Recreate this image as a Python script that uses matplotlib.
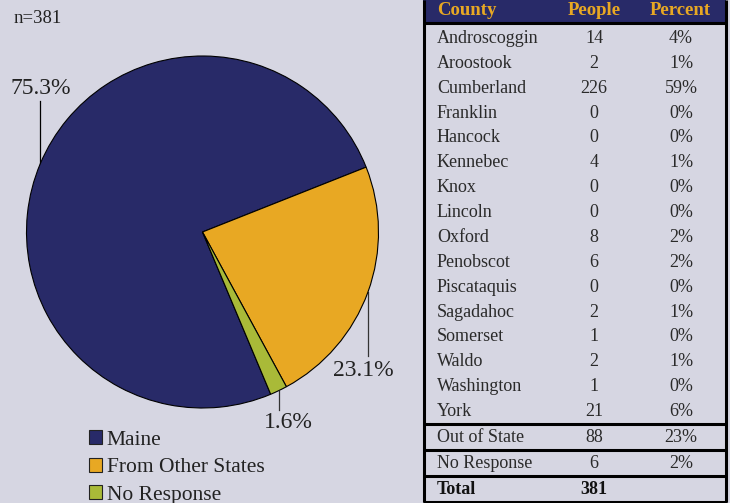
import matplotlib
matplotlib.use("Agg")
import matplotlib.pyplot as plt
from matplotlib.patches import Patch, Rectangle

# ---- data ----
pie_labels = ["Maine", "From Other States", "No Response"]
pie_values = [287, 88, 6]
n_total = 381

counties = ["Androscoggin", "Aroostook", "Cumberland", "Franklin", "Hancock",
            "Kennebec", "Knox", "Lincoln", "Oxford", "Penobscot", "Piscataquis",
            "Sagadahoc", "Somerset", "Waldo", "Washington", "York"]
people = [14, 2, 226, 0, 0, 4, 0, 0, 8, 6, 0, 2, 1, 2, 1, 21]
percent = ["4%", "1%", "59%", "0%", "0%", "1%", "0%", "0%", "2%", "2%", "0%",
           "1%", "0%", "1%", "0%", "6%"]
extra_rows = ["Out of State", "No Response"]
extra_people = [88, 6]
extra_percent = ["23%", "2%"]
header = ["County", "People", "Percent"]

# ---- style ----
BG = "#D6D6E2"
NAVY = "#282A68"
GOLD = "#E8A823"
GREEN = "#A9BA38"
colors = [NAVY, GOLD, GREEN]
FONT = "Liberation Serif"
plt.rcParams["font.family"] = [FONT, "DejaVu Serif"]

W, H = 730, 503
fig = plt.figure(figsize=(W / 100, H / 100), dpi=100, facecolor=BG)

# main overlay axes in pixel coords
ax = fig.add_axes([0, 0, 1, 1])
ax.set_xlim(0, W)
ax.set_ylim(H, 0)
ax.axis("off")

# ---- pie ----
cx, cy, r = 202.5, 232, 176
pax = fig.add_axes([(cx - r) / W, (H - cy - r) / H, 2 * r / W, 2 * r / H])
wedges, _ = pax.pie(pie_values, colors=colors, startangle=-67.2, counterclock=False,
                    wedgeprops=dict(edgecolor="black", linewidth=0.8))
pax.set_xlim(-1, 1)
pax.set_ylim(-1, 1)
pax.axis("off")

pcts = [f"{v / sum(pie_values) * 100:.1f}%" for v in pie_values]
# leader lines and labels (pixel coords)
ax.plot([40, 40], [101, 164], color="black", lw=0.9)
ax.text(41, 88, pcts[0], fontsize=17, ha="center", va="center", color="#222222")
ax.plot([368, 368], [292, 356], color="#333333", lw=0.9)
ax.text(363, 370, pcts[1], fontsize=17, ha="center", va="center", color="#222222")
ax.plot([279, 279], [391, 410], color="#333333", lw=0.9)
ax.text(288, 423, pcts[2], fontsize=17, ha="center", va="center", color="#222222")

ax.text(14, 18, f"n={n_total}", fontsize=13.5, ha="left", va="center", color="#222222")

handles = [Patch(facecolor=c, edgecolor="#222222", linewidth=0.8) for c in colors]
leg = fig.legend(handles, pie_labels, loc="upper left", bbox_to_anchor=(89 / W, 1 - 430 / H),
                 frameon=False, fontsize=15.5, handlelength=0.62, handleheight=0.62,
                 handletextpad=0.2, labelspacing=0.38, borderpad=0, borderaxespad=0)
for t in leg.get_texts():
    t.set_color("#222222")

# ---- table ----
tx0, tx1 = 423, 726
ax.add_patch(Rectangle((tx0, 0), tx1 - tx0, 22, facecolor=NAVY, edgecolor="none"))
hdr_x = [437, 594.5, 680.5]
ax.text(hdr_x[0], 10, header[0], color=GOLD, fontsize=13.5, fontweight="bold", ha="left", va="center")
ax.text(hdr_x[1], 10, header[1], color=GOLD, fontsize=13.5, fontweight="bold", ha="center", va="center")
ax.text(hdr_x[2], 10, header[2], color=GOLD, fontsize=13.5, fontweight="bold", ha="center", va="center")

row_y0, row_dy = 38.5, 24.87
fs = 13
tc = "#2a2a2a"
for i, (c, p, pc) in enumerate(zip(counties, people, percent)):
    y = row_y0 + i * row_dy
    ax.text(437, y, c, fontsize=fs, ha="left", va="center", color=tc)
    ax.text(594, y, str(p), fontsize=fs, ha="center", va="center", color=tc)
    ax.text(681, y, pc, fontsize=fs, ha="center", va="center", color=tc)

extra_y = [438, 464]
for y, c, p, pc in zip(extra_y, extra_rows, extra_people, extra_percent):
    ax.text(437, y, c, fontsize=fs, ha="left", va="center", color=tc)
    ax.text(594, y, str(p), fontsize=fs, ha="center", va="center", color=tc)
    ax.text(681, y, pc, fontsize=fs, ha="center", va="center", color=tc)

ax.text(437, 489.5, "Total", fontsize=fs, fontweight="bold", ha="left", va="center", color="#111111")
ax.text(594, 489.5, str(sum(people) + sum(extra_people)), fontsize=fs, fontweight="bold",
        ha="center", va="center", color="#111111")

lw = 2.2
for y in [23, 424, 450, 476, 501.5]:
    ax.plot([tx0, tx1 + 1], [y, y], color="black", lw=lw, solid_capstyle="butt")
for x in [tx0 + 1, tx1]:
    ax.plot([x, x], [0, 502], color="black", lw=lw, solid_capstyle="butt")

fig.savefig("out.png", dpi=100, facecolor=BG)
